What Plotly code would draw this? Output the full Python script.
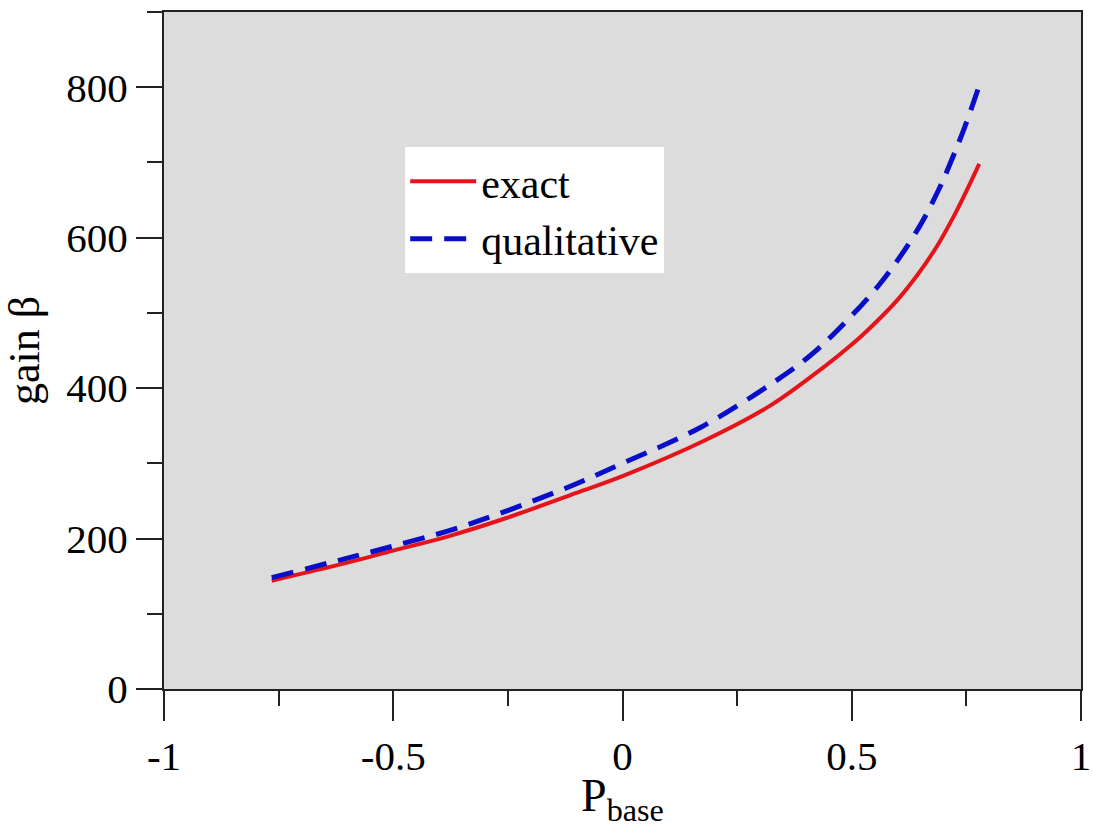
import plotly.graph_objects as go

# exact curve
exact_x = [-0.765, -0.6, -0.5, -0.38, -0.25, -0.09, 0.0, 0.178, 0.323, 0.439, 0.5, 0.533, 0.605, 0.678, 0.729, 0.778]
exact_y = [144, 168, 184, 203, 228, 263, 283, 330, 377, 428, 458, 476, 521, 581, 636, 698]

# qualitative curve
qual_x = [-0.765, -0.6, -0.5, -0.36, -0.14, 0.0, 0.171, 0.323, 0.403, 0.464, 0.562, 0.642, 0.689, 0.721, 0.747, 0.778]
qual_y = [148, 174, 190, 214, 263, 300, 348, 405, 440, 474, 539, 609, 663, 708, 748, 802]

x_tickvals = [-1, -0.5, 0, 0.5, 1]
x_ticktext = ["-1", "-0.5", "0", "0.5", "1"]
y_tickvals = [0, 200, 400, 600, 800]
y_ticktext = ["0", "200", "400", "600", "800"]

FONT = "Liberation Serif"

fig = go.Figure()
fig.add_trace(go.Scatter(x=exact_x, y=exact_y, mode="lines", name="exact",
                         line=dict(color="#e5141a", width=4, shape="spline", smoothing=1.0)))
fig.add_trace(go.Scatter(x=qual_x, y=qual_y, mode="lines", name="qualitative",
                         line=dict(color="#0a0ec8", width=5, dash="22px,12px", shape="spline", smoothing=1.0)))

axis_common = dict(
    showline=True, linecolor="#222", linewidth=2, mirror=True,
    ticks="outside", tickcolor="#222", tickwidth=2,
    showgrid=False, zeroline=False, automargin=False,
    ticklabeloverflow="allow",
    tickfont=dict(family=FONT, size=41, color="black"),
)

fig.update_xaxes(range=[-1, 1], tickvals=x_tickvals, ticktext=x_ticktext, ticklen=30,
                 minor=dict(dtick=0.25, tick0=0, ticks="outside", ticklen=15, tickcolor="#222", tickwidth=2),
                 title=dict(text="P<sub>base</sub>", font=dict(family=FONT, size=46, color="black"), standoff=4),
                 **axis_common)
fig.update_yaxes(range=[0, 900], tickvals=y_tickvals, ticktext=y_ticktext, ticklen=26,
                 minor=dict(dtick=100, tick0=0, ticks="outside", ticklen=15, tickcolor="#222", tickwidth=2),
                 title=dict(text="gain β", font=dict(family=FONT, size=44, color="black"), standoff=14),
                 **axis_common)

fig.update_layout(
    width=1093, height=828,
    margin=dict(l=164, r=12, t=12, b=139),
    plot_bgcolor="#dcdcdc", paper_bgcolor="white",
    legend=dict(x=0.263, y=0.80, xanchor="left", yanchor="top",
                bgcolor="white", borderwidth=0,
                font=dict(family=FONT, size=42, color="black"),
                tracegroupgap=0, itemwidth=66),
    showlegend=True,
)

fig.write_html("out.html")
